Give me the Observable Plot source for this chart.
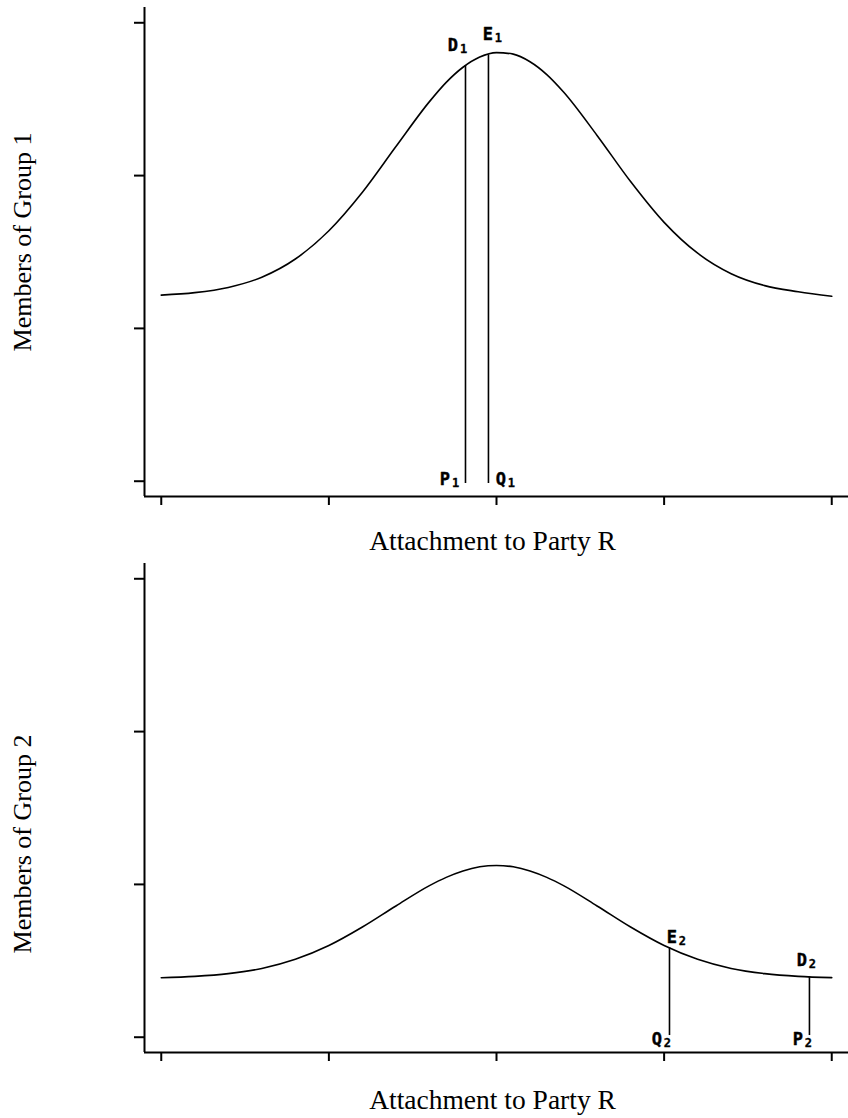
<!DOCTYPE html>
<html><head><meta charset="utf-8">
<script src="https://cdn.jsdelivr.net/npm/d3@7"></script>
<script src="https://cdn.jsdelivr.net/npm/@observablehq/plot@0.6"></script>
<style>
html,body{margin:0;padding:0;background:#fff;}
#chart{width:848px;}
#chart svg{display:block;}
</style></head><body><div id="chart"></div>
<script>
const xTicks = [0, 10, 20, 30, 40];
const yTicks = [0, 10, 20, 30];
const xLabel = "Attachment to Party R";
const yLabels = ["Members of Group 1", "Members of Group 2"];

const curveX  = [0, 2, 4, 6, 8, 10, 12, 14, 16, 17, 18, 19, 20, 21, 22, 23, 24, 26, 28, 30, 32, 34, 36, 38, 40];
const group1Y = [12.18, 12.34, 12.68, 13.35, 14.54, 16.39, 18.91, 21.90, 24.84, 26.10, 27.09, 27.76, 28.05, 27.95, 27.45, 26.61, 25.47, 22.63, 19.61, 16.94, 14.92, 13.58, 12.80, 12.40, 12.10];
const group2Y = [3.89, 3.98, 4.16, 4.50, 5.10, 6.00, 7.21, 8.59, 9.92, 10.46, 10.88, 11.15, 11.24, 11.15, 10.88, 10.46, 9.92, 8.59, 7.21, 6.00, 5.10, 4.50, 4.16, 3.98, 3.90];

// vertical segments
const group1SegX = [18.15, 19.52];
const group1SegTop = [27.2, 27.9];
const group1SegBottom = [-0.15, -0.15];
const group1TopLabels = ["D1", "E1"];
const group1BottomLabels = ["P1", "Q1"];

const group2SegX = [30.32, 38.67];
const group2SegTop = [5.86, 3.95];
const group2SegBottom = [0.11, 0.11];
const group2TopLabels = ["E2", "D2"];
const group2BottomLabels = ["Q2", "P2"];

const W = 848, H = 559;
const serif = "Liberation Serif, Times New Roman, serif";
const mono = "DejaVu Sans Mono, monospace";

// letter + lowered smaller digit, centred at (cx, cy) pixel offset from the anchor point
function lab(x, y, t, cx, cy) {
  const d = [{x, y, letter: t[0], sub: t.slice(1)}];
  return [
    Plot.text(d, {x: "x", y: "y", text: "letter", dx: cx - 4.5, dy: cy, fontFamily: mono, fontWeight: "bold", fontSize: 17, fill: "black", stroke: "black", strokeWidth: 0.4}),
    Plot.text(d, {x: "x", y: "y", text: "sub", dx: cx + 6, dy: cy + 3.5, fontFamily: mono, fontWeight: "bold", fontSize: 12, fill: "black", stroke: "black", strokeWidth: 0.3})
  ];
}

function panel(cfg) {
  const curve = curveX.map((x, i) => ({x, y: cfg.ys[i]}));
  const segs = cfg.segX.map((x, i) => ({x, y1: cfg.segBottom[i], y2: cfg.segTop[i]}));
  return Plot.plot({
    width: W, height: H,
    marginLeft: 144, marginRight: 0, marginTop: cfg.mt, marginBottom: H - cfg.mt - 489,
    x: {domain: [-1, 41]},
    y: {domain: [-1, 31]},
    style: {background: "white", color: "black"},
    marks: [
      Plot.axisX(xTicks, {tickSize: 9, strokeWidth: 2, tickFormat: () => "", label: null}),
      Plot.axisY(yTicks, {tickSize: 10, strokeWidth: 2, tickFormat: () => "", label: null}),
      Plot.ruleX([-1], {stroke: "black", strokeWidth: 2}),
      Plot.ruleY([-1], {stroke: "black", strokeWidth: 2}),
      Plot.line(curve, {x: "x", y: "y", curve: "monotone-x", stroke: "black", strokeWidth: 1.6}),
      Plot.ruleX(segs, {x: "x", y1: "y1", y2: "y2", stroke: "black", strokeWidth: 1.6}),
      ...cfg.labels().flat(),
      Plot.text([cfg.yLabel], {text: d => d, frameAnchor: "left", rotate: -90, dx: -122, dy: cfg.yDy, fontFamily: serif, fontSize: 26, textAnchor: "middle", fill: "black"}),
      Plot.text([xLabel], {text: d => d, frameAnchor: "bottom", lineAnchor: "bottom", dx: -4, dy: cfg.xDy, fontFamily: serif, fontSize: 27.5, textAnchor: "middle", fill: "black"})
    ]
  });
}

const chart = document.getElementById("chart");
chart.append(panel({
  ys: group1Y, segX: group1SegX, segTop: group1SegTop, segBottom: group1SegBottom,
  mt: 7, yLabel: yLabels[0], yDy: -10, xDy: 53,
  labels: () => [
    lab(group1SegX[0], group1SegTop[0], group1TopLabels[0], -8, -20),
    lab(group1SegX[1], group1SegTop[1], group1TopLabels[1], 4, -20),
    lab(group1SegX[0], group1SegBottom[0], group1BottomLabels[0], -16, -4),
    lab(group1SegX[1], group1SegBottom[1], group1BottomLabels[1], 17, -4)
  ]
}));
chart.append(panel({
  ys: group2Y, segX: group2SegX, segTop: group2SegTop, segBottom: group2SegBottom,
  mt: 4, yLabel: yLabels[1], yDy: 36, xDy: 56,
  labels: () => [
    lab(group2SegX[0], group2SegTop[0], group2TopLabels[0], 7, -10),
    lab(group2SegX[1], group2SegTop[1], group2TopLabels[1], -3, -16),
    lab(group2SegX[0], group2SegBottom[0], group2BottomLabels[0], -8, 4),
    lab(group2SegX[1], group2SegBottom[1], group2BottomLabels[1], -7, 4)
  ]
}));
</script></body></html>
